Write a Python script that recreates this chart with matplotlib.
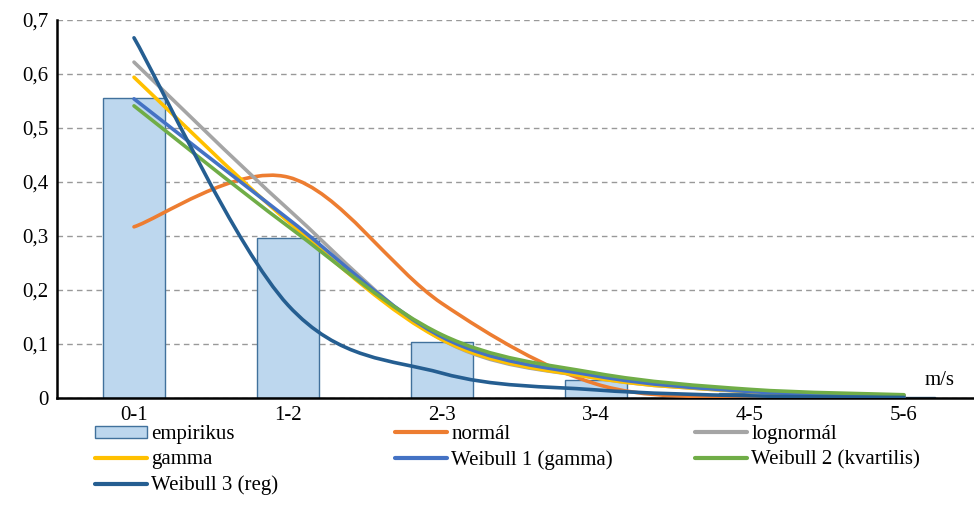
import matplotlib
matplotlib.use("Agg")
import matplotlib.pyplot as plt
from matplotlib.path import Path
from matplotlib.patches import PathPatch, Patch
from matplotlib.lines import Line2D
import numpy as np

# wind speed classes (m/s) and relative frequencies
categories = ["0-1", "1-2", "2-3", "3-4", "4-5", "5-6"]
empirikus = [0.556, 0.296, 0.103, 0.034, 0.009, 0.002]
normal = [0.317, 0.409, 0.175, 0.026, 0.001, 0.0]
lognormal = [0.622, 0.350, 0.108, 0.037, 0.012, 0.005]
gamma = [0.594, 0.327, 0.108, 0.037, 0.012, 0.004]
weibull1 = [0.554, 0.332, 0.113, 0.041, 0.012, 0.004]
weibull2 = [0.541, 0.318, 0.117, 0.046, 0.016, 0.006]
weibull3 = [0.667, 0.172, 0.046, 0.015, 0.004, 0.001]
y_ticks = [0, 0.1, 0.2, 0.3, 0.4, 0.5, 0.6, 0.7]

series = [
    ("normál", normal, "#ED7D31"),
    ("lognormál", lognormal, "#A5A5A5"),
    ("gamma", gamma, "#FFC000"),
    ("Weibull 1 (gamma)", weibull1, "#4472C4"),
    ("Weibull 2 (kvartilis)", weibull2, "#70AD47"),
    ("Weibull 3 (reg)", weibull3, "#255E91"),
]

plt.rcParams['font.family'] = ['Liberation Serif', 'DejaVu Serif']
FS = 15
LW = 2.6


def smooth_path(xs, ys):
    # excel-like smoothed line: cubic bezier through every point
    pts = np.column_stack([xs, ys]).astype(float)
    n = len(pts)
    verts = [pts[0]]
    codes = [Path.MOVETO]
    for i in range(n - 1):
        p_prev = pts[i - 1] if i > 0 else pts[i]
        p_next = pts[i + 2] if i + 2 < n else pts[i + 1]
        c1 = pts[i] + (pts[i + 1] - p_prev) / 6.0
        c2 = pts[i + 1] - (p_next - pts[i]) / 6.0
        verts += [c1, c2, pts[i + 1]]
        codes += [Path.CURVE4] * 3
    return Path(verts, codes)


fig = plt.figure(figsize=(9.74, 5.24), dpi=100)
ax = fig.add_axes([57 / 974, 1 - 398 / 524, 924 / 974, 378 / 524])

x = np.arange(len(categories))
ax.bar(x, empirikus, width=0.4, color="#BDD7EE", edgecolor="#41719C",
       linewidth=1.0, zorder=2)

for name, vals, col in series:
    patch = PathPatch(smooth_path(x, vals), facecolor="none", edgecolor=col,
                      linewidth=LW, capstyle="round", joinstyle="round", zorder=3)
    ax.add_patch(patch)

ax.set_xlim(-0.5, 5.5)
ax.set_ylim(0, 0.7)
ax.set_yticks(y_ticks)
ax.set_yticklabels(["0" if v == 0 else f"{v:.1f}".replace(".", ",") for v in y_ticks])
ax.set_xticks(x)
ax.set_xticklabels(categories)
ax.tick_params(axis="both", length=0, labelsize=FS)
ax.tick_params(axis="y", pad=6)
ax.tick_params(axis="x", pad=6)

ax.yaxis.grid(True, color="#999999", linestyle=(0, (4, 3)), linewidth=1.0, zorder=0)
ax.set_axisbelow(True)
for s in ["top", "right"]:
    ax.spines[s].set_visible(False)
ax.spines["left"].set_linewidth(1.8)
ax.spines["bottom"].set_linewidth(1.8)
ax.spines["left"].set_color("black")
ax.spines["bottom"].set_color("black")

ax.text(5.23, 0.014, "m/s", fontsize=FS, ha="center", va="bottom")

# legend, three columns laid out like the original
bar_handle = Patch(facecolor="#BDD7EE", edgecolor="#41719C", linewidth=1.0)
handles = {name: Line2D([], [], color=col, linewidth=LW + 0.4, solid_capstyle="round")
           for name, vals, col in series}
columns = [
    [(bar_handle, "empirikus"), (handles["gamma"], "gamma"),
     (handles["Weibull 3 (reg)"], "Weibull 3 (reg)")],
    [(handles["normál"], "normál"), (handles["Weibull 1 (gamma)"], "Weibull 1 (gamma)")],
    [(handles["lognormál"], "lognormál"), (handles["Weibull 2 (kvartilis)"], "Weibull 2 (kvartilis)")],
]
col_x = [95, 395, 695]
for cx, items in zip(col_x, columns):
    leg = fig.legend([h for h, _ in items], [t for _, t in items],
                     loc="upper left", bbox_to_anchor=(cx / 974, 1 - 425 / 524),
                     frameon=False, fontsize=FS, handlelength=2.5,
                     handleheight=0.5, handletextpad=0.2, labelspacing=0.3,
                     borderpad=0, borderaxespad=0)

fig.savefig("out.png", dpi=100)
